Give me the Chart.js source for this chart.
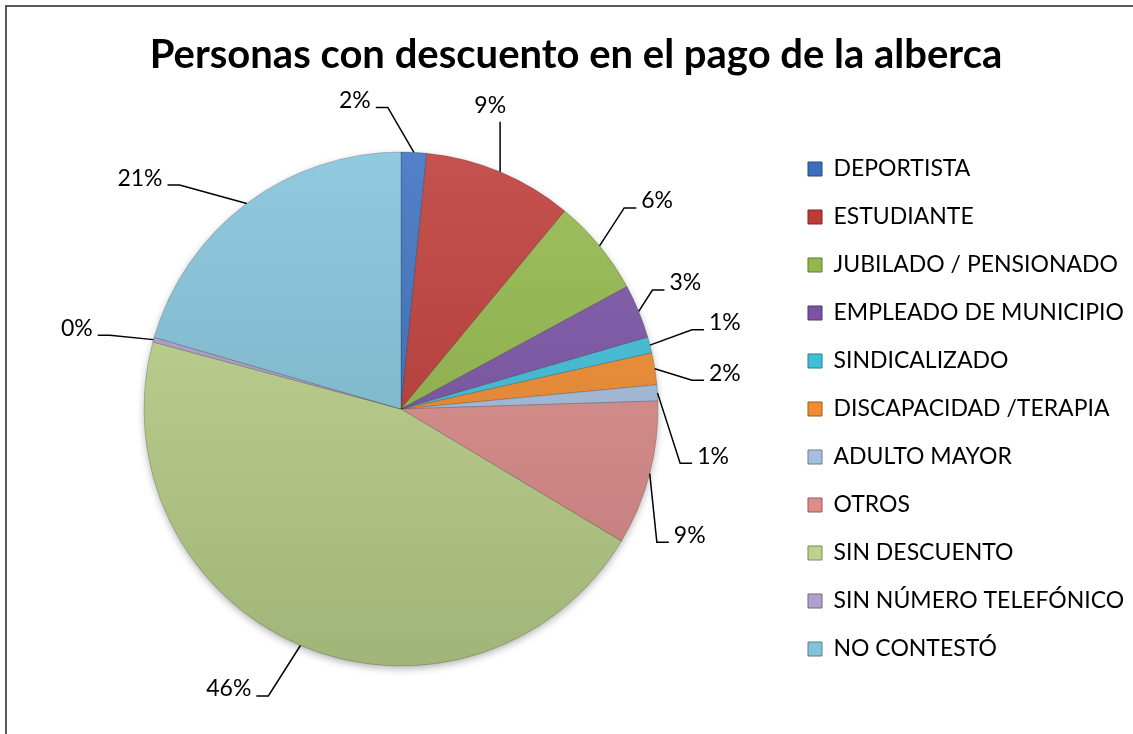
<!DOCTYPE html>
<html lang="es">
<head>
<meta charset="utf-8">
<title>Personas con descuento en el pago de la alberca</title>
<script src="https://cdn.jsdelivr.net/npm/chart.js@4"></script>
<style>
  html, body { margin: 0; padding: 0; background: #fff; }
  #marco {
    position: absolute; left: 5px; top: 5px; width: 1200px; height: 800px;
    border-left: 2px solid #595959; border-top: 2px solid #595959;
  }
  #grafica { position: absolute; left: 0; top: 0; }
</style>
</head>
<body>
<div id="marco"></div>
<canvas id="grafica" width="1133" height="734"></canvas>
<script>
const categorias = [
  "DEPORTISTA", "ESTUDIANTE", "JUBILADO / PENSIONADO", "EMPLEADO DE MUNICIPIO",
  "SINDICALIZADO", "DISCAPACIDAD /TERAPIA", "ADULTO MAYOR", "OTROS",
  "SIN DESCUENTO", "SIN NÚMERO TELEFÓNICO", "NO CONTESTÓ"
];
// porcentajes
const porcentajes = [1.6, 9.4, 6.1, 3.4, 1.0, 2.0, 1.0, 9.1, 45.6, 0.3, 20.5];
const colores = [
  "#3A70BF", "#BE3A37", "#93B84A", "#7A52A6", "#3DBFDA", "#F28C2E",
  "#A5BFE0", "#DE8D8B", "#BCD38B", "#B1A0CB", "#82C3DA"
];
// donde va cada etiqueta: angulo (grados desde arriba) y distancia en radios
const etiquetaAngulo = [-8.5, 16.4, 50.9, 66.1, 75.1, 83.7, 98.6, 113.6, 211.6, 284, 311.5];
const etiquetaDist = [1.214, 1.23, 1.284, 1.21, 1.304, 1.268, 1.228, 1.226, 1.279, 1.30, 1.356];

const RADIO = 257;
const LEYENDA_X = 808; // borde izquierdo de los cuadritos de la leyenda
const FUENTE = "Lato, 'Open Sans', sans-serif";

function mezcla(hex, otro, t) {
  const a = parseInt(hex.slice(1), 16), b = parseInt(otro.slice(1), 16);
  const c = [16, 8, 0].map(s => {
    const x = (a >> s) & 255, y = (b >> s) & 255;
    return Math.round(x + (y - x) * t);
  });
  return `rgb(${c[0]},${c[1]},${c[2]})`;
}

// la leyenda ocupa desde LEYENDA_X hasta el borde derecho
const anchoLeyenda = {
  id: "anchoLeyenda",
  beforeLayout(chart) {
    const leg = chart.legend;
    if (!leg || leg._anchoFijo) return;
    const fitOrig = leg.fit;
    leg.fit = function () {
      fitOrig.call(this);
      this.width = chart.width - LEYENDA_X + this.options.labels.padding;
    };
    leg._anchoFijo = true;
  }
};

// sombra suave debajo del pastel
const sombraPastel = {
  id: "sombraPastel",
  beforeDatasetsDraw(chart) {
    const arc = chart.getDatasetMeta(0).data[0];
    if (!arc) return;
    const ctx = chart.ctx;
    ctx.save();
    ctx.shadowColor = "rgba(0,0,0,0.35)";
    ctx.shadowBlur = 9;
    ctx.shadowOffsetY = 3;
    ctx.fillStyle = "#ccc";
    ctx.beginPath();
    ctx.arc(arc.x, arc.y, arc.outerRadius - 1, 0, Math.PI * 2);
    ctx.fill();
    ctx.restore();
  }
};

// etiquetas de porcentaje con linea guia
const etiquetas = {
  id: "etiquetas",
  afterDatasetsDraw(chart) {
    const ctx = chart.ctx;
    const meta = chart.getDatasetMeta(0);
    ctx.save();
    ctx.font = `23px ${FUENTE}`;
    ctx.fillStyle = "#000";
    ctx.strokeStyle = "#000";
    ctx.lineWidth = 1.5;
    ctx.textAlign = "center";
    ctx.textBaseline = "middle";
    meta.data.forEach((arc, i) => {
      const cx = arc.x, cy = arc.y, r = arc.outerRadius;
      const medio = (arc.startAngle + arc.endAngle) / 2;
      const ax = cx + Math.cos(medio) * r;
      const ay = cy + Math.sin(medio) * r;
      const th = etiquetaAngulo[i] * Math.PI / 180;
      const lx = cx + Math.sin(th) * r * etiquetaDist[i];
      const ly = cy - Math.cos(th) * r * etiquetaDist[i];
      const texto = Math.round(porcentajes[i]) + "%";
      const w = ctx.measureText(texto).width;
      ctx.beginPath();
      ctx.moveTo(ax, ay);
      if (ax < lx - w / 2 - 10) {
        const ex = lx - w / 2 - 5, ey = ly + 7;
        ctx.lineTo(ex - 12, ey);
        ctx.lineTo(ex, ey);
      } else if (ax > lx + w / 2 + 10) {
        const ex = lx + w / 2 + 5, ey = ly + 7;
        ctx.lineTo(ex + 12, ey);
        ctx.lineTo(ex, ey);
      } else {
        ctx.lineTo(ax, ly + 16);
      }
      ctx.stroke();
      ctx.fillText(texto, lx, ly);
    });
    ctx.restore();
  }
};

new Chart(document.getElementById("grafica"), {
  type: "pie",
  data: {
    labels: categorias,
    datasets: [{
      data: porcentajes,
      backgroundColor: (c) => {
        const color = colores[c.dataIndex];
        const area = c.chart.chartArea;
        if (!area) return color;
        const cy = (area.top + area.bottom) / 2;
        const g = c.chart.ctx.createLinearGradient(0, cy - RADIO, 0, cy + RADIO);
        g.addColorStop(0, mezcla(color, "#ffffff", 0.12));
        g.addColorStop(1, mezcla(color, "#000000", 0.14));
        return g;
      },
      borderColor: "rgba(0,0,0,0.18)",
      borderWidth: 1
    }]
  },
  options: {
    responsive: false,
    animation: false,
    radius: RADIO,
    layout: { padding: { left: 19, right: 0, top: 0, bottom: 5 } },
    plugins: {
      tooltip: { enabled: false },
      title: {
        display: true,
        text: "Personas con descuento en el pago de la alberca",
        color: "#000",
        font: { family: FUENTE, size: 40, weight: "bold", lineHeight: 1.2 },
        padding: { top: 31, bottom: 10 }
      },
      legend: {
        position: "right",
        align: "center",
        fullSize: false,
        labels: {
          color: "#000",
          font: { family: FUENTE, size: 23 },
          boxWidth: 14,
          boxHeight: 14,
          padding: 25,
          generateLabels: (chart) => categorias.map((nombre, i) => ({
            text: nombre,
            fillStyle: colores[i],
            strokeStyle: mezcla(colores[i], "#000000", 0.35),
            lineWidth: 1,
            hidden: false,
            index: i
          }))
        }
      }
    }
  },
  plugins: [anchoLeyenda, sombraPastel, etiquetas]
});
</script>
</body>
</html>
